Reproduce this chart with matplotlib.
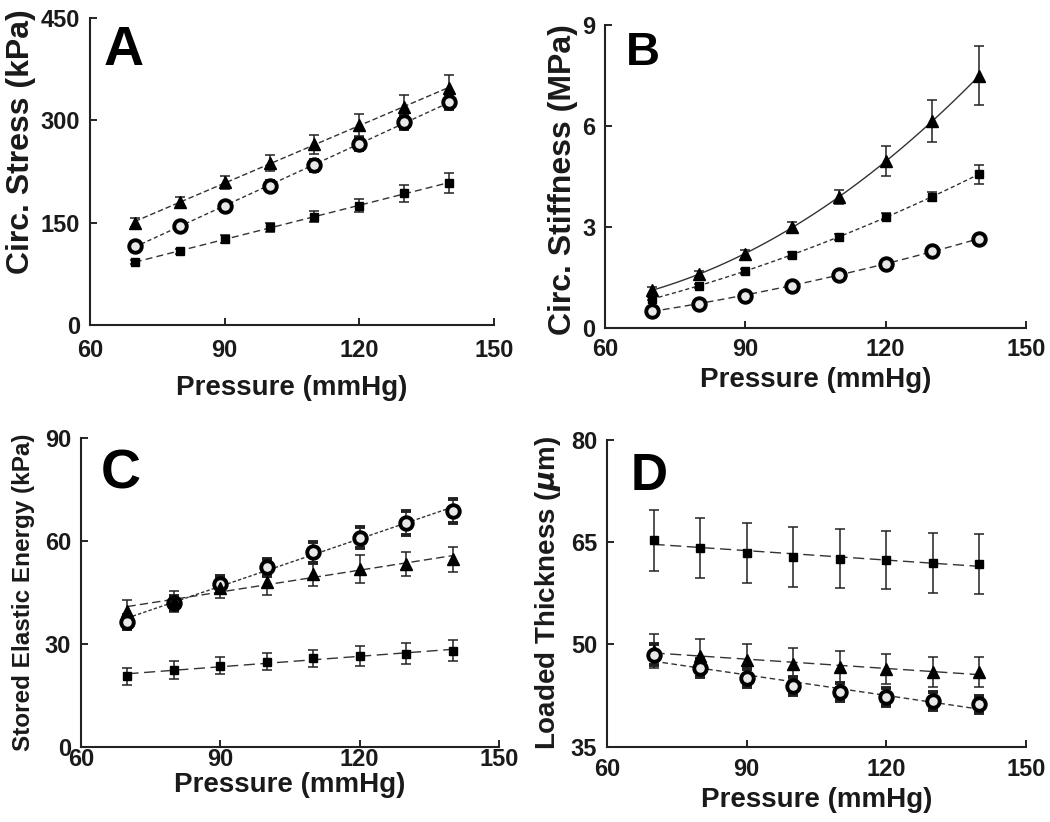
import numpy as np
import matplotlib
matplotlib.use("Agg")
import matplotlib.pyplot as plt

plt.rcParams['font.family'] = ['Liberation Sans', 'DejaVu Sans']
plt.rcParams['font.weight'] = 'bold'
plt.rcParams['mathtext.default'] = 'it'

W, H = 1050, 822

pressure = [70, 80, 90, 100, 110, 120, 130, 140]

# A: circumferential stress (kPa)
stress_tri = [150, 180, 209, 237, 265, 293, 320, 347]
stress_tri_err = [7, 8, 10, 12, 14, 16, 17, 19]
stress_circ = [116, 145, 174, 204, 234, 265, 297, 327]
stress_circ_err = [5, 5, 6, 7, 8, 9, 10, 11]
stress_sq = [92, 108, 126, 143, 159, 175, 193, 208]
stress_sq_err = [3, 4, 6, 7, 8, 10, 12, 15]

# B: circumferential stiffness (MPa)
stiff_tri = [1.13, 1.60, 2.21, 3.00, 3.90, 4.96, 6.14, 7.50]
stiff_tri_err = [0.10, 0.10, 0.12, 0.15, 0.20, 0.45, 0.62, 0.88]
stiff_sq = [0.88, 1.25, 1.69, 2.18, 2.72, 3.31, 3.91, 4.57]
stiff_sq_err = [0.05, 0.06, 0.07, 0.08, 0.09, 0.10, 0.12, 0.28]
stiff_circ = [0.51, 0.73, 0.97, 1.27, 1.59, 1.92, 2.29, 2.65]
stiff_circ_err = [0.05, 0.05, 0.06, 0.06, 0.07, 0.08, 0.09, 0.10]

# C: stored elastic energy (kPa)
energy_circ = [36.3, 41.9, 47.3, 52.2, 56.6, 60.9, 65.0, 68.7]
energy_circ_err = [2.0, 2.0, 2.5, 2.5, 3.0, 3.0, 3.5, 3.5]
energy_tri = [39.6, 42.3, 46.3, 47.8, 50.2, 51.7, 53.2, 54.6]
energy_tri_err = [3.0, 3.0, 3.0, 3.5, 3.5, 4.0, 3.6, 3.6]
energy_sq = [20.5, 22.3, 23.5, 24.7, 25.7, 26.4, 27.1, 27.9]
energy_sq_err = [2.5, 2.5, 2.5, 2.5, 2.5, 3.0, 3.0, 3.0]

# D: loaded thickness (um)
thick_sq = [65.3, 64.2, 63.4, 62.9, 62.6, 62.4, 62.0, 61.8]
thick_sq_err = [4.5, 4.4, 4.4, 4.4, 4.3, 4.3, 4.4, 4.4]
thick_tri = [49.1, 48.3, 47.7, 47.2, 46.7, 46.4, 46.0, 45.9]
thick_tri_err = [2.5, 2.5, 2.3, 2.3, 2.3, 2.2, 2.2, 2.2]
thick_circ = [48.5, 46.5, 45.1, 43.9, 43.0, 42.3, 41.7, 41.2]
thick_circ_err = [1.5, 1.3, 1.3, 1.3, 1.3, 1.3, 1.3, 1.3]

fig = plt.figure(figsize=(W / 100, H / 100), dpi=100)

tri_kw = dict(marker='^', color='black', markersize=8.5, ls='none')
sq_kw = dict(marker='s', color='black', markersize=5.5, ls='none')
circ_kw = dict(marker='o', mfc='#e8e8e8', mec='black', mew=2.8, markersize=9, ls='none')


def fit_line(ax, y, deg, ls, dashes=None):
    xs = np.linspace(70, 140, 50)
    p = np.polyfit(pressure, y, deg)
    line, = ax.plot(xs, np.polyval(p, xs), color='#333333', lw=1.0, ls=ls, zorder=1)
    if dashes is not None:
        line.set_dashes(dashes)


def series(ax, y, err, kw, deg=1, ls='--', dashes=None):
    fit_line(ax, y, deg, ls, dashes)
    ax.errorbar(pressure, y, yerr=err, ecolor='#222222', elinewidth=1.1,
                capsize=3.5, capthick=1.1, zorder=3, **kw)


def style(ax, ylim, yticks, ylabel, ylab_size, ylab_xy, xlab_y, xpad):
    ax.set_xlim(60, 150)
    ax.set_xticks([60, 90, 120, 150])
    ax.set_ylim(*ylim)
    ax.set_yticks(yticks)
    for s in ['top', 'right']:
        ax.spines[s].set_visible(False)
    for s in ['left', 'bottom']:
        ax.spines[s].set_linewidth(1.5)
        ax.spines[s].set_color('#222222')
    ax.tick_params(direction='in', length=5, width=1.2, labelsize=17)
    ax.tick_params(axis='x', pad=xpad)
    ax.tick_params(axis='y', pad=7)
    for lab in ax.get_xticklabels() + ax.get_yticklabels():
        lab.set_fontweight('bold')
        lab.set_color('#1a1a1a')
    ax.set_xlabel('Pressure (mmHg)', fontsize=20, fontweight='bold', color='#1a1a1a')
    ax.xaxis.set_label_coords(0.5, xlab_y)
    ax.set_ylabel(ylabel, fontsize=ylab_size, fontweight='bold', color='#1a1a1a')
    ax.yaxis.set_label_coords(*ylab_xy)


def letter(ch, left, baseline, size):
    fig.text(left / W, 1 - baseline / H, ch, fontsize=size, fontweight='bold',
             ha='left', va='baseline')


# A
axA = fig.add_axes([90 / W, 1 - 325 / H, 404 / W, 307 / H])
series(axA, stress_tri, stress_tri_err, tri_kw, dashes=(4, 2))
series(axA, stress_circ, stress_circ_err, circ_kw, dashes=(3, 2))
series(axA, stress_sq, stress_sq_err, sq_kw, dashes=(5, 3))
style(axA, (0, 450), [0, 150, 300, 450], 'Circ. Stress (kPa)', 23,
      (-0.134, 0.596), -0.163, 10)
letter('A', 104, 65, 40)

# B
axB = fig.add_axes([605 / W, 1 - 328.3 / H, 421 / W, 303.3 / H])
series(axB, stiff_tri, stiff_tri_err, tri_kw, deg=2, ls='-')
series(axB, stiff_sq, stiff_sq_err, sq_kw, deg=2, dashes=(3, 2))
series(axB, stiff_circ, stiff_circ_err, circ_kw, deg=2, dashes=(5, 3))
style(axB, (0, 9), [0, 3, 6, 9], 'Circ. Stiffness (MPa)', 23,
      (-0.064, 0.49), -0.128, 7)
letter('B', 626, 65, 34)

# C
axC = fig.add_axes([81 / W, 1 - 746.5 / H, 418 / W, 308.8 / H])
series(axC, energy_circ, energy_circ_err, circ_kw, dashes=(2.5, 1.5))
series(axC, energy_tri, energy_tri_err, tri_kw, dashes=(6, 3))
series(axC, energy_sq, energy_sq_err, sq_kw, dashes=(8, 4))
style(axC, (0, 90), [0, 30, 60, 90], 'Stored Elastic Energy (kPa)', 17.5,
      (-0.11, 0.5), -0.082, 1)
letter('C', 101, 488, 40)

# D
axD = fig.add_axes([607 / W, 1 - 746.7 / H, 419 / W, 306.7 / H])
series(axD, thick_sq, thick_sq_err, sq_kw, dashes=(8, 4))
series(axD, thick_tri, thick_tri_err, tri_kw, dashes=(8, 4))
series(axD, thick_circ, thick_circ_err, circ_kw, dashes=(4, 2.5))
style(axD, (35, 80), [35, 50, 65, 80], r'Loaded Thickness ($\mu$m)', 20,
      (-0.105, 0.5), -0.13, 8)
letter('D', 631, 490, 37)

fig.savefig('out.png', dpi=100)
